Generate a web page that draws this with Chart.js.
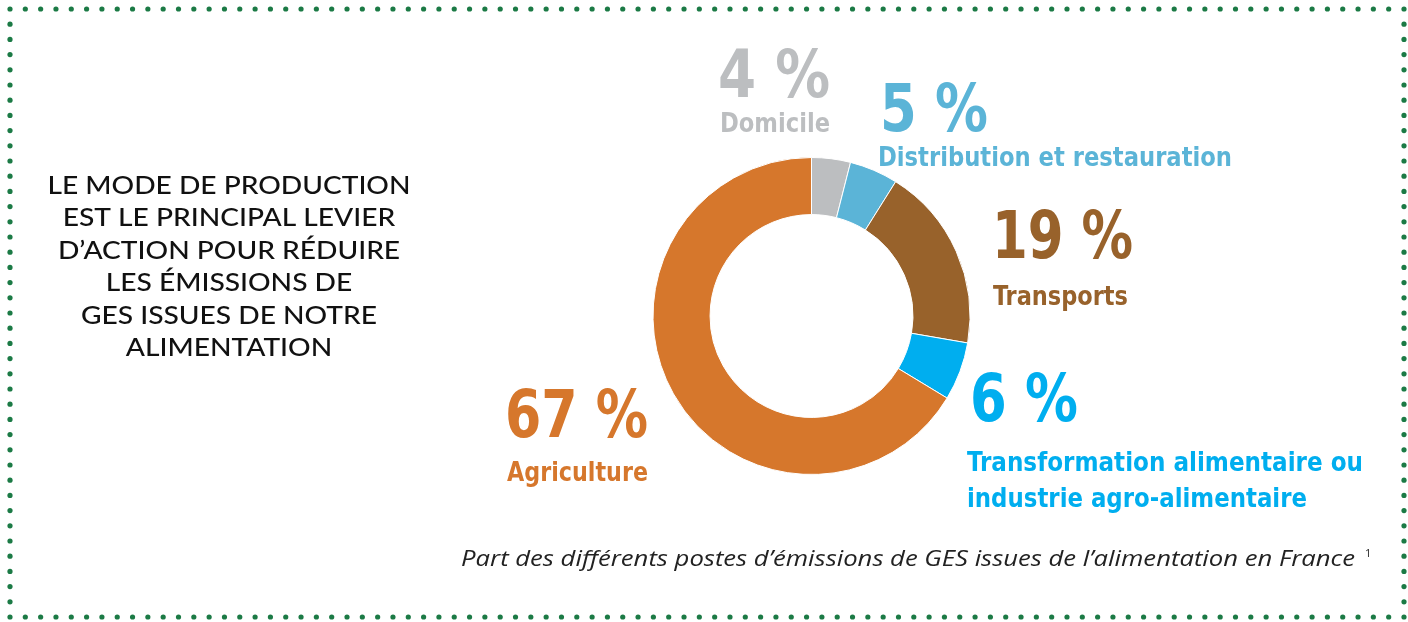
<!DOCTYPE html>
<html>
<head>
<meta charset="utf-8">
<script src="https://cdn.jsdelivr.net/npm/chart.js@4.4.1/dist/chart.umd.min.js"></script>
<style>
    html, body { margin: 0; padding: 0; background: #fff; }
    #wrap { position: relative; width: 1408px; height: 622px; }
</style>
</head>
<body>
<div id="wrap">
    <canvas id="ges_donut" width="1408" height="622"></canvas>
</div>
<script>
// data
const categories = ['Domicile', 'Distribution et restauration', 'Transports', 'Transformation alimentaire ou\nindustrie agro-alimentaire', 'Agriculture'];
const shares = [4, 5, 19, 6, 67];
const titleLines = ['LE MODE DE PRODUCTION', 'EST LE PRINCIPAL LEVIER', 'D\u2019ACTION POUR RÉDUIRE', 'LES ÉMISSIONS DE', 'GES ISSUES DE NOTRE', 'ALIMENTATION'];
const caption = 'Part des différents postes d\u2019émissions de GES issues de l\u2019alimentation en France';
const captionNote = '1';

// styles
const sliceColors = ['#BCBEC0', '#5BB4D7', '#98622B', '#00AEEF', '#D6772C'];
const dotGreen = '#1B7A45';
const numFont = '"DejaVu Sans Condensed", "DejaVu Sans", sans-serif';
const labelFont = '"Liberation Sans Narrow", "DejaVu Sans Condensed", sans-serif';

// where each label sits: left x, baseline of the number, number width, label baseline, label widths
const labelPos = [
    { x: 718, numY: 97, numW: 112, labY: 132, labW: [110], lx: 720 },
    { x: 880, numY: 131, numW: 108, labY: 166, labW: [354], lx: 878 },
    { x: 992, numY: 258, numW: 141, labY: 305, labW: [135], lx: 993 },
    { x: 970, numY: 421, numW: 108, labY: 471, labW: [396, 340], lx: 967 },
    { x: 505, numY: 437, numW: 143, labY: 481, labW: [141], lx: 507 },
];

// draw text squeezed/stretched to a given width
function fitText(ctx, text, x, y, width, font) {
    ctx.font = font;
    const w = ctx.measureText(text).width;
    ctx.save();
    ctx.translate(x, y);
    ctx.scale(width / w, 1);
    ctx.fillText(text, 0, 0);
    ctx.restore();
}

const decorPlugin = {
    id: 'decor',
    beforeDraw(chart) {
        const ctx = chart.ctx;
        ctx.save();
        ctx.fillStyle = dotGreen;
        const left = 10, right = 1404, top = 9, bottom = 617;
        const nx = Math.round((right - left) / 15.3);
        const ny = Math.round((bottom - top) / 15.3);
        for (let i = 0; i <= nx; i++) {
            const x = left + (right - left) * i / nx;
            [top, bottom].forEach(y => { ctx.beginPath(); ctx.arc(x, y, 2.6, 0, Math.PI * 2); ctx.fill(); });
        }
        for (let j = 1; j < ny; j++) {
            const y = top + (bottom - top) * j / ny;
            [left, right].forEach(x => { ctx.beginPath(); ctx.arc(x, y, 2.6, 0, Math.PI * 2); ctx.fill(); });
        }
        ctx.restore();
    },
    afterDraw(chart) {
        const ctx = chart.ctx;
        ctx.save();
        ctx.textBaseline = 'alphabetic';
        ctx.textAlign = 'left';

        // left heading, one common horizontal scale so the first line spans 47..410
        ctx.fillStyle = '#111';
        const titleFont = '500 25px Lato, "Noto Sans", sans-serif';
        ctx.font = titleFont;
        const sx = 363 / ctx.measureText(titleLines[0]).width;
        titleLines.forEach((line, i) => {
            const w = ctx.measureText(line).width * sx;
            fitText(ctx, line, 229 - w / 2, 193.5 + i * 32.5, w, titleFont);
        });

        // slice labels
        categories.forEach((cat, i) => {
            const p = labelPos[i];
            ctx.fillStyle = sliceColors[i];
            fitText(ctx, `${shares[i]} %`, p.x, p.numY, p.numW, `bold 66px ${numFont}`);
            cat.split('\n').forEach((line, k) => {
                fitText(ctx, line, p.lx, p.labY + k * 36, p.labW[k], `bold 27px ${labelFont}`);
            });
        });

        // caption
        ctx.fillStyle = '#222';
        fitText(ctx, caption, 461, 566, 894, 'italic 21px "Open Sans", sans-serif');
        ctx.font = '11px "Open Sans", sans-serif';
        ctx.fillText(captionNote, 1365, 557);
        ctx.restore();
    }
};

new Chart(document.getElementById('ges_donut'), {
    type: 'doughnut',
    data: {
        labels: categories,
        datasets: [{
            data: shares,
            backgroundColor: sliceColors,
            borderColor: '#ffffff',
            borderWidth: 1,
        }]
    },
    options: {
        responsive: false,
        animation: false,
        cutout: '64%',
        layout: { padding: { left: 652, right: 437, top: 157, bottom: 147 } },
        plugins: {
            legend: { display: false },
            tooltip: { enabled: false }
        }
    },
    plugins: [decorPlugin]
});
</script>
</body>
</html>
